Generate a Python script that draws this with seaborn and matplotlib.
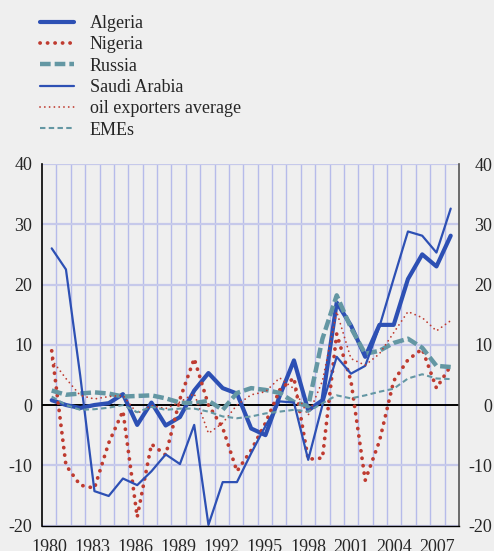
import numpy as np
import pandas as pd
import matplotlib
matplotlib.use("Agg")
import matplotlib.pyplot as plt
import seaborn as sns

years = list(range(1980, 2009))
algeria = [0.8, 0.0, -0.5, 0.0, 0.3, 1.8, -3.3, 0.4, -3.4, -2.0, 2.4, 5.3, 2.8, 1.9,
           -3.9, -5.0, 1.5, 7.4, -0.9, 0.8, 17.0, 13.2, 8.0, 13.3, 13.3, 20.9, 25.0, 23.0, 28.1]
nigeria = [9.0, -10.0, -13.3, -13.8, -6.3, -1.0, -18.6, -6.5, -8.3, 1.0, 7.7, 0.0, -3.8, -11.0,
           -7.5, -3.0, 2.5, 4.5, -9.0, -8.8, 11.8, 4.0, -12.5, -6.0, 4.0, 7.5, 9.3, 2.8, 6.5]
russia = [2.4, 1.7, 1.9, 2.1, 1.9, 1.4, 1.5, 1.6, 1.1, 0.4, 0.3, 0.7, -0.8, 2.0,
          2.8, 2.5, 2.0, 0.5, -0.2, 11.0, 18.2, 12.8, 8.5, 9.0, 10.3, 11.0, 9.5, 6.5, 6.3]
saudi = [26.0, 22.5, 4.9, -14.3, -15.1, -12.2, -13.3, -11.0, -8.2, -9.8, -3.3, -19.9, -12.8, -12.8,
         -8.0, -3.5, 0.6, 0.4, -9.1, 0.0, 8.0, 5.2, 6.5, 13.0, 21.0, 28.8, 28.1, 25.3, 32.6]
oil_avg = [7.5, 4.4, 1.6, 1.0, 1.4, 1.6, -1.4, -0.1, -0.6, 0.5, 1.9, -4.7, -3.0, 0.0,
           1.7, 2.2, 4.5, 2.7, -1.7, 4.0, 15.5, 7.7, 6.6, 8.5, 12.0, 15.5, 14.5, 12.3, 14.0]
emes = [1.4, 0.0, -0.8, -0.7, -0.45, 0.0, -1.2, -0.3, -0.8, -0.6, -0.6, -1.1, -1.9, -2.2,
        -1.9, -1.4, -1.1, -0.8, -1.1, 0.3, 1.6, 1.1, 1.6, 2.2, 2.7, 4.4, 5.1, 4.4, 4.3]
labels = ["Algeria", "Nigeria", "Russia", "Saudi Arabia", "oil exporters average", "EMEs"]
yticks = [-20, -10, 0, 10, 20, 30, 40]
xtick_years = list(range(1980, 2008, 3))

sns.set_style("white")
plt.rcParams['font.family'] = ['Liberation Serif', 'DejaVu Serif']
plt.rcParams['axes.unicode_minus'] = False

BG = '#efefef'
BLUE = '#2d50b4'
RED = '#bf3b30'
TEAL = '#6497a3'

fig = plt.figure(figsize=(4.94, 5.51), dpi=100)
fig.patch.set_facecolor(BG)
ax = fig.add_axes([42 / 494, (551 - 525.5) / 551, 417 / 494, (525.5 - 164) / 551])
ax.set_facecolor(BG)

x0 = 1980 - (51.7 - 42) / 14.25
x1 = 2008 + (459 - 450.7) / 14.25
ax.set_xlim(x0, x1)
ax.set_ylim(-20, 40)
step = (x1 - x0) / 29

# grid
for k in range(1, 29):
    ax.axvline(x0 + k * step, color='#b6bbea', lw=1.0, zorder=0)
for yv in yticks:
    if yv != 0:
        ax.axhline(yv, color='#c6c9ea', lw=1.6, zorder=0)
ax.axhline(0, color='black', lw=1.4, zorder=1)

df = pd.DataFrame({"year": years, "Algeria": algeria, "Nigeria": nigeria, "Russia": russia,
                   "Saudi Arabia": saudi, "oil exporters average": oil_avg, "EMEs": emes})

styles = {
    "Algeria": dict(color=BLUE, lw=3.0, ls='-'),
    "Nigeria": dict(color=RED, lw=2.7, ls=(0, (0.05, 1.95)), dash_capstyle='round'),
    "Russia": dict(color=TEAL, lw=3.2, ls=(0, (2.4, 0.9))),
    "Saudi Arabia": dict(color=BLUE, lw=1.6, ls='-'),
    "oil exporters average": dict(color=RED, lw=1.3, ls=(0, (0.05, 2.6)), dash_capstyle='round'),
    "EMEs": dict(color=TEAL, lw=1.5, ls=(0, (2.6, 1.6))),
}
handles = []
for name in labels:
    st = dict(styles[name])
    sns.lineplot(data=df, x="year", y=name, ax=ax, label=name, **st)
    handles.append(ax.get_lines()[-1])
ax.get_legend().remove()

# y ticks left
ax.set_yticks(yticks)
ax.set_yticklabels([str(v) for v in yticks])
ax.tick_params(axis='y', which='both', length=0, left=False, right=False,
               labelleft=True, labelright=False, labelsize=13, pad=7.2)
# y ticks right (right-aligned at the figure edge)
ax2 = ax.twinx()
ax2.set_ylim(-20, 40)
ax2.set_yticks(yticks)
ax2.set_yticklabels([str(v) for v in yticks])
ax2.tick_params(axis='y', length=0, labelsize=13, pad=23.8)
for t in ax2.yaxis.get_major_ticks():
    t.label2.set_horizontalalignment('right')
for s in ax2.spines.values():
    s.set_visible(False)

ax.set_xticks([x0 + k * step for k in range(0, 30)], minor=True)
ax.set_xticks([x0 + ((y - 1980) + 0.5) * step for y in xtick_years])
ax.set_xticklabels([str(y) for y in xtick_years])
ax.tick_params(axis='x', which='minor', direction='out', length=4, width=1, color='black')
ax.tick_params(axis='x', which='major', length=0, labelsize=13, pad=10)
ax.set_xlabel("")
ax.set_ylabel("")

ax.spines['top'].set_visible(False)
ax.spines['left'].set_color('black')
ax.spines['left'].set_linewidth(1.2)
ax.spines['bottom'].set_color('black')
ax.spines['bottom'].set_linewidth(1.0)
ax.spines['right'].set_color('#555555')
ax.spines['right'].set_linewidth(1.2)

fig.legend(handles, labels, loc='upper left', bbox_to_anchor=(40 / 494, 1 - 15 / 551),
           frameon=False, fontsize=13, handlelength=1.9, handletextpad=0.85,
           labelspacing=0.24, borderpad=0, borderaxespad=0)

fig.savefig("out.png", dpi=100, facecolor=BG)
